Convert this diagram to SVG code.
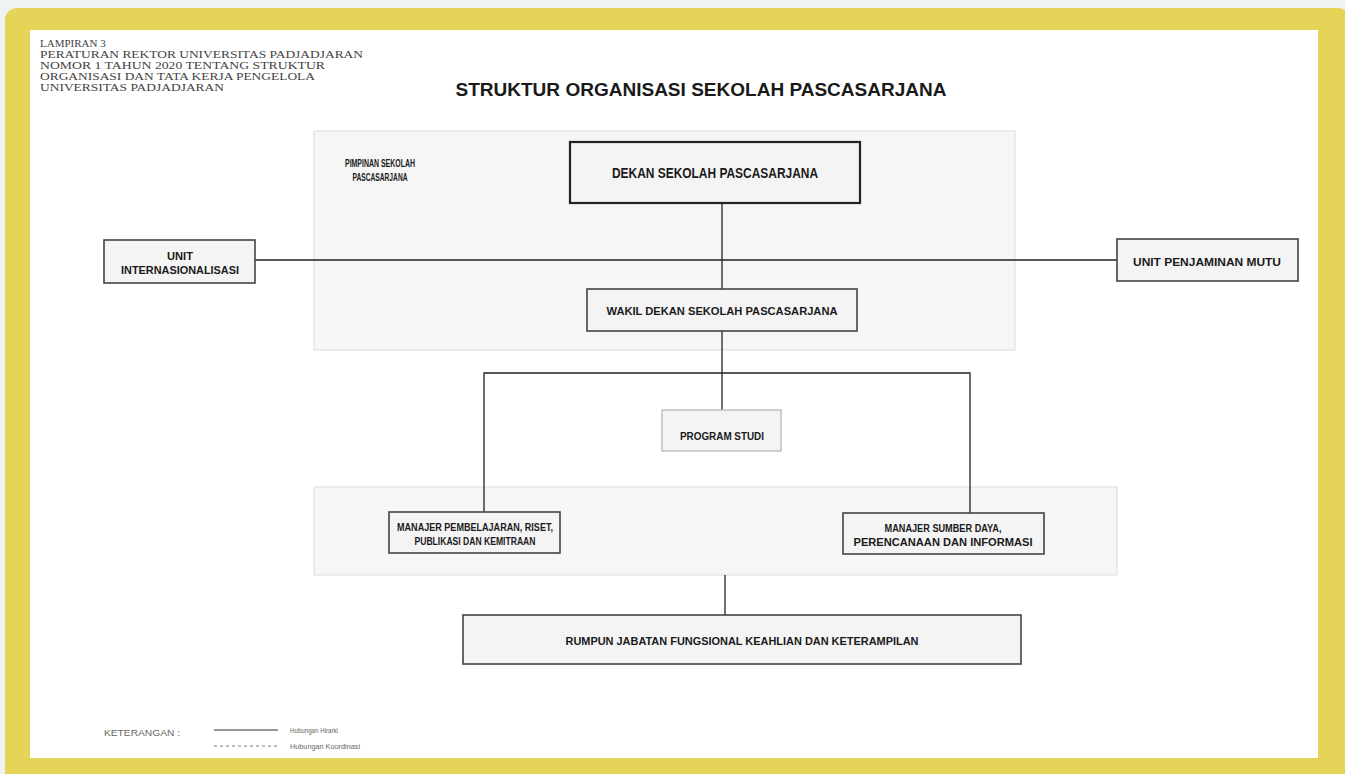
<svg xmlns="http://www.w3.org/2000/svg" width="1345" height="774" viewBox="0 0 1345 774">
<defs>
<style>
.hdr{font-family:"Liberation Serif","Times New Roman",serif;font-size:11px;fill:#444}
.t{font-family:"Liberation Sans",Arial,sans-serif;font-weight:bold;fill:#1a1a1a;text-anchor:middle}
.lbl{font-family:"Liberation Sans",Arial,sans-serif;fill:#666}
.box{fill:#f4f4f4;stroke:#444;stroke-width:1.6}
.panel{fill:#f6f6f6;stroke:#dcdcdc;stroke-width:1}
.ln{stroke:#222;stroke-width:1.3;fill:none}
</style>
</defs>
<rect x="0" y="0" width="1345" height="774" fill="#eef3f4"/>
<rect x="5" y="8" width="1345" height="780" rx="12" fill="#e5d457"/>
<rect x="30" y="30" width="1288" height="728" fill="#ffffff"/>

<g id="header">
<text class="hdr" x="40" y="47">LAMPIRAN 3</text>
<text class="hdr" x="40" y="58" textLength="323" lengthAdjust="spacingAndGlyphs">PERATURAN REKTOR UNIVERSITAS PADJADJARAN</text>
<text class="hdr" x="40" y="69" textLength="285" lengthAdjust="spacingAndGlyphs">NOMOR 1 TAHUN 2020 TENTANG STRUKTUR</text>
<text class="hdr" x="40" y="80" textLength="275" lengthAdjust="spacingAndGlyphs">ORGANISASI DAN TATA KERJA PENGELOLA</text>
<text class="hdr" x="40" y="91" textLength="184" lengthAdjust="spacingAndGlyphs">UNIVERSITAS PADJADJARAN</text>
</g>
<text class="t" x="701" y="96" font-size="18.5" textLength="491" lengthAdjust="spacingAndGlyphs">STRUKTUR ORGANISASI SEKOLAH PASCASARJANA</text>

<g id="panel-pimpinan">
<rect class="panel" x="314" y="131" width="701" height="219"/>
<text class="t" x="380" y="167" font-size="11" textLength="70" lengthAdjust="spacingAndGlyphs">PIMPINAN SEKOLAH</text>
<text class="t" x="380" y="181" font-size="11" textLength="55" lengthAdjust="spacingAndGlyphs">PASCASARJANA</text>
</g>
<g id="panel-manajer">
<rect class="panel" x="314" y="487" width="803" height="88"/>
</g>

<g id="connectors">
<line class="ln" x1="722" y1="203" x2="722" y2="289"/>
<line class="ln" x1="255" y1="260" x2="1117" y2="260"/>
<line class="ln" x1="722" y1="331" x2="722" y2="410"/>
<polyline class="ln" points="484,512 484,373 970,373 970,513"/>
<line class="ln" x1="725" y1="575" x2="725" y2="615"/>
</g>

<g id="dekan">
<rect x="570" y="142" width="290" height="61" fill="#f4f4f4" stroke="#222" stroke-width="2.2"/>
<text class="t" x="715" y="178" font-size="14" textLength="206" lengthAdjust="spacingAndGlyphs">DEKAN SEKOLAH PASCASARJANA</text>
</g>
<g id="unit-internasionalisasi">
<rect class="box" x="104" y="240" width="151" height="43"/>
<text class="t" x="180" y="259.5" font-size="11" textLength="26" lengthAdjust="spacingAndGlyphs">UNIT</text>
<text class="t" x="180" y="273.5" font-size="11" textLength="118" lengthAdjust="spacingAndGlyphs">INTERNASIONALISASI</text>
</g>
<g id="unit-penjaminan-mutu">
<rect class="box" x="1117" y="239" width="181" height="42"/>
<text class="t" x="1207" y="266" font-size="11" textLength="148" lengthAdjust="spacingAndGlyphs">UNIT PENJAMINAN MUTU</text>
</g>
<g id="wakil-dekan">
<rect class="box" x="587" y="289" width="270" height="42"/>
<text class="t" x="722" y="315" font-size="11" textLength="231" lengthAdjust="spacingAndGlyphs">WAKIL DEKAN  SEKOLAH PASCASARJANA</text>
</g>
<g id="program-studi">
<rect x="662" y="410" width="119" height="41" fill="#f4f4f4" stroke="#bbb" stroke-width="1.4"/>
<text class="t" x="722" y="440" font-size="11" textLength="84" lengthAdjust="spacingAndGlyphs">PROGRAM STUDI</text>
</g>
<g id="manajer-pembelajaran">
<rect class="box" x="389" y="512" width="171" height="41"/>
<text class="t" x="475" y="531" font-size="11" textLength="156" lengthAdjust="spacingAndGlyphs">MANAJER PEMBELAJARAN, RISET,</text>
<text class="t" x="475" y="545" font-size="11" textLength="121" lengthAdjust="spacingAndGlyphs">PUBLIKASI DAN KEMITRAAN</text>
</g>
<g id="manajer-sumber-daya">
<rect class="box" x="843" y="513" width="201" height="41"/>
<text class="t" x="943" y="532" font-size="11" textLength="117" lengthAdjust="spacingAndGlyphs">MANAJER SUMBER DAYA,</text>
<text class="t" x="943" y="546" font-size="11" textLength="179" lengthAdjust="spacingAndGlyphs">PERENCANAAN DAN INFORMASI</text>
</g>
<g id="rumpun">
<rect class="box" x="463" y="615" width="558" height="49"/>
<text class="t" x="742" y="645" font-size="11" textLength="353" lengthAdjust="spacingAndGlyphs">RUMPUN JABATAN FUNGSIONAL KEAHLIAN DAN KETERAMPILAN</text>
</g>

<g id="legend">
<text class="lbl" x="104" y="736" font-size="9.5" textLength="76" lengthAdjust="spacingAndGlyphs">KETERANGAN :</text>
<line x1="214" y1="730" x2="278" y2="730" stroke="#333" stroke-width="1.2"/>
<text class="lbl" x="290" y="733" font-size="7.5" textLength="48" lengthAdjust="spacingAndGlyphs">Hubungan Hirarki</text>
<line x1="214" y1="746" x2="278" y2="746" stroke="#777" stroke-width="1" stroke-dasharray="3,3"/>
<text class="lbl" x="290" y="749" font-size="7.5" textLength="70" lengthAdjust="spacingAndGlyphs">Hubungan Koordinasi</text>
</g>
</svg>
